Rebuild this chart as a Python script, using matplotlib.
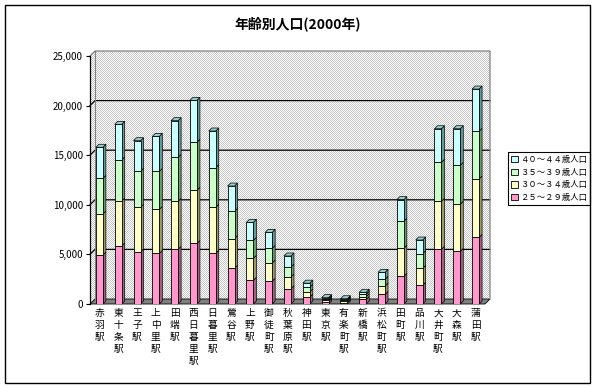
import numpy as np
import matplotlib
matplotlib.use('Agg')
import matplotlib.pyplot as plt
from matplotlib.patches import Polygon, Rectangle, Patch

plt.rcParams['font.family'] = ['Noto Sans CJK JP', 'DejaVu Sans']

title = '年齢別人口(2000年)'
stations = ['赤羽駅', '東十条駅', '王子駅', '上中里駅', '田端駅', '西日暮里駅', '日暮里駅',
            '鶯谷駅', '上野駅', '御徒町駅', '秋葉原駅', '神田駅', '東京駅', '有楽町駅',
            '新橋駅', '浜松町駅', '田町駅', '品川駅', '大井町駅', '大森駅', '蒲田駅']
age_25_29 = [4950, 5850, 5240, 5100, 5510, 6110, 5110, 3600, 2390, 2290, 1550,
             700, 230, 150, 470, 970, 2790, 1880, 5510, 5310, 6720]
age_30_34 = [4120, 4530, 4500, 4440, 4840, 5350, 4630, 2990, 2210, 1840, 1170,
             510, 160, 150, 270, 840, 2820, 1710, 4840, 4740, 5880]
age_35_39 = [3600, 4140, 3630, 3830, 4440, 4840, 4000, 2750, 1810, 1480, 1010,
             470, 130, 120, 240, 680, 2720, 1480, 3930, 3930, 4810]
age_40_44 = [3130, 3590, 3090, 3530, 3690, 4230, 3700, 2550, 1820, 1610, 1110,
             420, 120, 110, 200, 700, 2190, 1380, 3390, 3690, 4260]
series_labels = ['２５～２９歳人口', '３０～３４歳人口', '３５～３９歳人口', '４０～４４歳人口']
yticks = [0, 5000, 10000, 15000, 20000, 25000]

front_colors = ['#ff99cc', '#ffffcc', '#ccffcc', '#ccffff']
side_colors = ['#a0607f', '#99996a', '#6a996a', '#669999']
top_colors = ['#cc7aa3', '#cccca3', '#a3cca3', '#99cccc']

W, H = 599, 387
fig = plt.figure(figsize=(W / 100, H / 100), dpi=100)
ax = fig.add_axes([90 / W, 1 - 304 / H, 395 / W, 248 / H])
n = len(stations)
ax.set_xlim(-0.5, n - 0.5)
ax.set_ylim(0, 25000)
ax.patch.set_visible(False)
for s in ['top', 'right', 'bottom']:
    ax.spines[s].set_visible(False)
ax.spines['left'].set_color('black')
ax.spines['left'].set_linewidth(0.9)
ax.spines['left'].set_zorder(5)
ax.set_yticks(yticks)
ax.set_yticklabels([f'{v:,}' for v in yticks])
ax.tick_params(axis='y', length=3, width=0.8, pad=2, labelsize=7)
ax.set_xticks(range(n))
ax.set_xticklabels(['\n'.join(s) for s in stations], fontsize=7, linespacing=1.25)
ax.tick_params(axis='x', length=0, pad=3)

# background with 3D walls (pixel coordinates)
bg = fig.add_axes([0, 0, 1, 1], zorder=-1)
bg.set_xlim(0, W)
bg.set_ylim(0, H)
bg.axis('off')
tp = ax.transData.transform
x0, y0 = tp((-0.5, 0))
x1, y1 = tp((n - 0.5, 25000))
d = 5
wall_pts = [(x0, y0), (x0, y1), (x0 + d, y1 + d), (x1 + d, y1 + d), (x1 + d, y0 + d), (x1, y0)]
wall = Polygon(wall_pts, closed=True, facecolor='none', edgecolor='none')
bg.add_patch(wall)
chk = (np.indices((H, W)).sum(0) % 2).astype(float)
g = 0.78
rgb = np.stack([g + (1 - g) * chk] * 3, axis=-1)
im = bg.imshow(rgb, extent=(0, W, 0, H), origin='lower', interpolation='nearest', aspect='auto')
im.set_clip_path(wall)
bg.set_xlim(0, W)
bg.set_ylim(0, H)

for v in yticks[1:-1]:
    yf = tp((0, v))[1]
    bg.plot([x0, x0 + d, x1 + d], [yf, yf + d, yf + d], color='black', lw=0.9)
bg.plot([x0, x0 + d, x1 + d, x1 + d], [y1, y1 + d, y1 + d, y0 + d], color='#808080', lw=0.9)
bg.plot([x0 + d, x0 + d], [y0 + d, y1 + d], color='#808080', lw=0.8)
floor = Polygon([(x0, y0), (x0 + d, y0 + d), (x1 + d, y0 + d), (x1, y0)], closed=True,
                facecolor='#808080', edgecolor='black', lw=0.6)
bg.add_patch(floor)

# bars with 3D faces
xs = np.arange(n)
bw = 0.37
ddx = 3 / (395 / n)
ddy = 3 * 25000 / 248
series = [age_25_29, age_30_34, age_35_39, age_40_44]
bottom = np.zeros(n)
for k, vals in enumerate(series):
    vals = np.array(vals, dtype=float)
    ax.bar(xs, vals, bottom=bottom, width=bw, color=front_colors[k], edgecolor='black',
           linewidth=0.6, zorder=3)
    top = bottom + vals
    for i in range(n):
        xr = xs[i] + bw / 2
        xl = xs[i] - bw / 2
        ax.add_patch(Polygon([(xr, bottom[i]), (xr + ddx, bottom[i] + ddy), (xr + ddx, top[i] + ddy),
                              (xr, top[i])], closed=True, facecolor=side_colors[k],
                             edgecolor='black', lw=0.5, zorder=2.9, clip_on=False))
        if k == len(series) - 1:
            ax.add_patch(Polygon([(xl, top[i]), (xl + ddx, top[i] + ddy), (xr + ddx, top[i] + ddy),
                                  (xr, top[i])], closed=True, facecolor=top_colors[k],
                                 edgecolor='black', lw=0.5, zorder=2.9, clip_on=False))
    bottom = top

handles = [Patch(facecolor=front_colors[k], edgecolor='black', linewidth=0.6, label=series_labels[k])
           for k in reversed(range(len(series)))]
leg = ax.legend(handles=handles, loc='upper left', bbox_to_anchor=(508 / W, 1 - 152 / H),
                bbox_transform=fig.transFigure, fancybox=False, edgecolor='black', framealpha=1,
                fontsize=6, borderpad=0.35, labelspacing=0.45, handlelength=0.8, handleheight=0.8,
                handletextpad=0.3, borderaxespad=0)
leg.get_frame().set_linewidth(0.8)

fig.text(298 / W, 1 - 24 / H, title, ha='center', va='center', fontsize=10, fontweight='bold')
fig.add_artist(Rectangle((5 / W, 1 - 383 / H), 585 / W, 378 / H, transform=fig.transFigure,
                         fill=False, edgecolor='black', lw=1))

fig.savefig('out.png', dpi=100)
